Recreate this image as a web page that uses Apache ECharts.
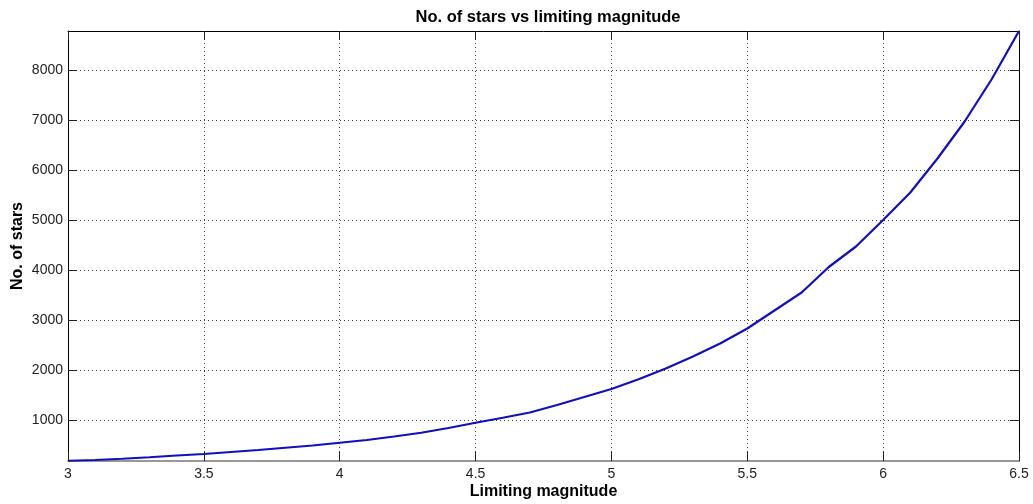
<!DOCTYPE html>
<html>
<head>
<meta charset="utf-8">
<title>No. of stars vs limiting magnitude</title>
<script src="https://cdn.jsdelivr.net/npm/echarts@6/dist/echarts.min.js"></script>
<style>
  html, body { margin: 0; padding: 0; background: #fff; }
  #chart { width: 1033px; height: 504px; }
</style>
</head>
<body>
<div id="chart"></div>
<script>
// Limiting magnitude (x) and cumulative number of stars visible (y)
const magnitudes = [3.0, 3.1, 3.2, 3.3, 3.4, 3.5, 3.6, 3.7, 3.8, 3.9,
                    4.0, 4.1, 4.2, 4.3, 4.4, 4.5, 4.6, 4.7, 4.8, 4.9,
                    5.0, 5.1, 5.2, 5.3, 5.4, 5.5, 5.6, 5.7, 5.8, 5.9,
                    6.0, 6.1, 6.2, 6.3, 6.4, 6.5];
const starCounts = [185, 200, 225, 255, 290, 320, 360, 400, 445, 490,
                    545, 600, 670, 745, 840, 945, 1045, 1150, 1300, 1460,
                    1620, 1815, 2030, 2270, 2530, 2830, 3190, 3550, 4060, 4470,
                    5000, 5550, 6230, 6970, 7820, 8780];
const yTickValues = [1000, 2000, 3000, 4000, 5000, 6000, 7000, 8000];
const xTickLabels = ['3', '3.5', '4', '4.5', '5', '5.5', '6', '6.5'];

const X_MIN = 3, X_MAX = 6.5, Y_MIN = 180, Y_MAX = 8780;
const FONT = '"Liberation Sans", Arial, Helvetica, sans-serif';

const points = magnitudes.map((m, i) => [m, starCounts[i]]);

const gridDots = { show: true, lineStyle: { color: '#3a3a3a', width: 1, type: [1, 3] } };
const innerTick = { show: true, inside: true, length: 9, lineStyle: { color: '#222', width: 1 } };

const chart = echarts.init(document.getElementById('chart'), null, { renderer: 'canvas' });
chart.setOption({
  animation: false,
  backgroundColor: '#ffffff',
  title: {
    text: 'No. of stars vs limiting magnitude',
    left: 543, textAlign: 'center', top: 4,
    textStyle: { fontFamily: FONT, fontSize: 16.5, fontWeight: 'bold', color: '#000' }
  },
  grid: { left: 68, right: 14, top: 31, bottom: 43, containLabel: false, outerBoundsMode: 'none' },
  xAxis: [
    {
      type: 'value', position: 'bottom', min: X_MIN, max: X_MAX, interval: 0.5,
      name: 'Limiting magnitude', nameLocation: 'middle', nameGap: 23, nameMoveOverlap: false,
      nameTextStyle: { fontFamily: FONT, fontSize: 16, fontWeight: 'bold', color: '#000' },
      axisLine: { show: true, lineStyle: { color: '#777', width: 1.5 } },
      axisTick: innerTick,
      axisLabel: {
        fontFamily: FONT, fontSize: 14, color: '#222', margin: 6,
        formatter: (v) => xTickLabels[Math.round((v - X_MIN) / 0.5)]
      },
      splitLine: gridDots
    },
    {
      type: 'value', position: 'top', min: X_MIN, max: X_MAX, interval: 0.5,
      axisLine: { show: true, lineStyle: { color: '#000', width: 1 } },
      axisTick: innerTick,
      axisLabel: { show: false },
      splitLine: { show: false }
    }
  ],
  yAxis: [
    {
      type: 'value', position: 'left', min: Y_MIN, max: Y_MAX,
      name: 'No. of stars', nameLocation: 'middle', nameGap: 42, nameMoveOverlap: false,
      nameTextStyle: { fontFamily: FONT, fontSize: 16, fontWeight: 'bold', color: '#000' },
      axisLine: { show: true, lineStyle: { color: '#000', width: 1 } },
      axisTick: Object.assign({ customValues: yTickValues }, innerTick),
      axisLabel: {
        customValues: yTickValues, fontFamily: FONT, fontSize: 14, color: '#222', margin: 5,
        formatter: (v) => String(v)
      },
      splitLine: gridDots
    },
    {
      type: 'value', position: 'right', min: Y_MIN, max: Y_MAX,
      axisLine: { show: true, lineStyle: { color: '#000', width: 1 } },
      axisTick: Object.assign({ customValues: yTickValues }, innerTick),
      axisLabel: { show: false },
      splitLine: { show: false }
    }
  ],
  series: [
    {
      type: 'line', xAxisIndex: 0, yAxisIndex: 0,
      data: points, showSymbol: false, smooth: false,
      lineStyle: { color: '#1010bc', width: 2.2 },
      z: 5
    }
  ]
});
</script>
</body>
</html>
